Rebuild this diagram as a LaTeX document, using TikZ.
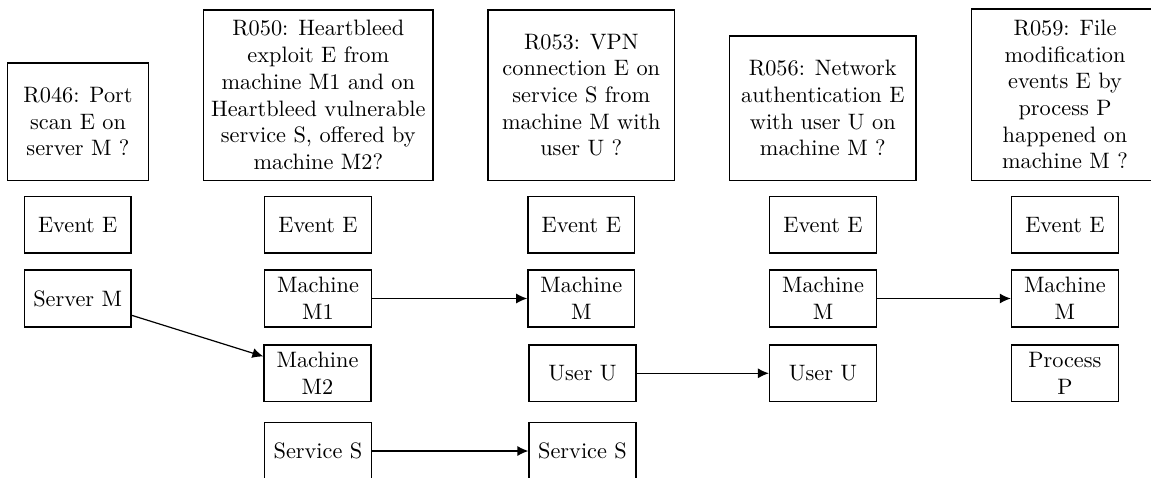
\documentclass[tikz,border=0pt]{standalone}
\usepackage{fontspec}
\setmainfont{lmroman10-regular}[Extension=.otf]
\usetikzlibrary{arrows.meta}
\begin{document}
\begin{tikzpicture}[x=1pt,y=-1pt,
  every node/.style={font=\fontsize{22.3}{26.7}\selectfont},
  qbox/.style={draw,line width=1.5pt,align=center,inner sep=0pt,anchor=south},
  ebox/.style={draw,line width=1.5pt,align=center,inner sep=1pt,minimum width=106.7pt,minimum height=56.7pt},
  link/.style={line width=1.2pt,-{Latex[length=11pt,width=10pt]}}]
\useasboundingbox (0,0) rectangle (1151,477);
% question boxes
\node[qbox,minimum width=141pt,minimum height=117.3pt] (q1) at (78,181) {R046: Port\\scan E on\\server M ?};
\node[qbox,minimum width=229.3pt,minimum height=170.3pt] (q2) at (318.3,181) {R050: Heartbleed\\exploit E from\\machine M1 and on\\Heartbleed vulnerable\\service S, offered by\\machine M2?};
\node[qbox,minimum width=186.7pt,minimum height=170.3pt] (q3) at (581.3,181) {R053: VPN\\connection E on\\service S from\\machine M with\\user U ?};
\node[qbox,minimum width=186.3pt,minimum height=144.3pt] (q4) at (822.8,181) {R056: Network\\authentication E\\with user U on\\machine M ?};
\node[qbox,minimum width=186.6pt,minimum height=171.3pt] (q5) at (1065,181) {R059: File\\modification\\events E by\\process P\\happened on\\machine M ?};
% column 1
\node[ebox] (e1) at (77.7,224.7) {Event E};
\node[ebox] (s1) at (77.7,298.5) {Server M};
% column 2
\node[ebox] (e2) at (318,224.7) {Event E};
\node[ebox] (m21) at (318,298.5) {Machine\\M1};
\node[ebox] (m22) at (317.5,373.3) {Machine\\M2};
\node[ebox] (sv2) at (318,451) {Service S};
% column 3
\node[ebox] (e3) at (581.3,224.7) {Event E};
\node[ebox] (m3) at (581.3,298.5) {Machine\\M};
\node[ebox] (u3) at (582.5,373.3) {User U};
\node[ebox] (sv3) at (582.5,451) {Service S};
% column 4
\node[ebox] (e4) at (823,224.7) {Event E};
\node[ebox] (m4) at (823,298.5) {Machine\\M};
\node[ebox] (u4) at (823,373.3) {User U};
% column 5
\node[ebox] (e5) at (1064.9,224.7) {Event E};
\node[ebox] (m5) at (1064.9,298.5) {Machine\\M};
\node[ebox] (p5) at (1064.9,373.3) {Process\\P};
% links
\draw[link] (s1) -- (m22);
\draw[link] (m21) -- (m3);
\draw[link] (sv2) -- (sv3);
\draw[link] (u3) -- (u4);
\draw[link] (m4) -- (m5);
\end{tikzpicture}
\end{document}
